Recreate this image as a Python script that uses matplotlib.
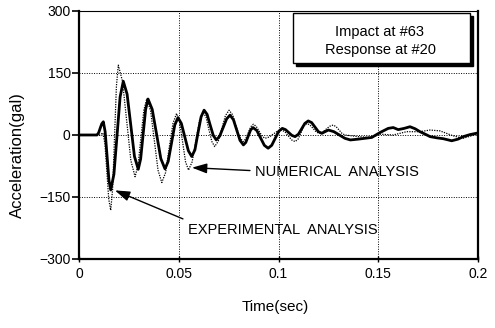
import matplotlib
matplotlib.use('Agg')
import matplotlib.pyplot as plt
from matplotlib.patches import Rectangle

plt.rcParams['font.family'] = ['Liberation Sans', 'DejaVu Sans']

# experimental (solid) curve
t_exp = [0.000, 0.009, 0.0098, 0.0106, 0.0114, 0.0122, 0.0131, 0.01405, 0.0150, 0.0159,
         0.0175, 0.01905, 0.0206, 0.0222, 0.0241, 0.02595, 0.0278, 0.0297, 0.0309, 0.03215,
         0.0334, 0.0346, 0.0367, 0.03885, 0.0410, 0.0431, 0.0447, 0.04635, 0.0480, 0.0496,
         0.0513, 0.05305, 0.0548, 0.0565, 0.0581, 0.0596, 0.0612, 0.0627, 0.0642, 0.06575,
         0.0673, 0.0688, 0.0705, 0.07225, 0.0740, 0.0757, 0.0774, 0.07905, 0.0807, 0.0824,
         0.0836, 0.0848, 0.0860, 0.0872, 0.0891, 0.0910, 0.0929, 0.0948, 0.0966, 0.09835,
         0.1001, 0.1019, 0.1035, 0.1051, 0.1067, 0.1083, 0.1100, 0.1116, 0.1132, 0.1149,
         0.1166, 0.1183, 0.1200, 0.1217, 0.1233, 0.125, 0.12775, 0.1305, 0.13325, 0.136,
         0.1400, 0.1467, 0.1509, 0.155, 0.1575, 0.160, 0.163, 0.1659, 0.1685, 0.1709,
         0.1735, 0.176, 0.1795, 0.1826, 0.1868, 0.190, 0.1926, 0.196, 0.200]
a_exp = [0, 0, 5, 16, 27, 32, 8, -50, -109, -133,
         -95, -2, 92, 130, 99, 24, -52, -83, -58, 2,
         62, 87, 62, 3, -57, -82, -64, -20, 24, 42,
         28, -5, -38, -52, -36, 4, 44, 60, 50, 24,
         -1, -12, -3, 18, 39, 48, 37, 12, -13, -24,
         -18, -3, 12, 18, 11, -7, -25, -32, -25, -8,
         9, 16, 13, 6, -1, -4, 2, 15, 28, 34,
         30, 19, 8, 4, 8, 12, 8, 0, -8, -12,
         -10, -6, 6, 16, 18, 13, 16, 20, 15, 8,
         2, -4, -7, -9, -14, -10, -4, 1, 5]

# numerical (dotted) curve
t_num = [0.000, 0.0105, 0.012, 0.0130, 0.01395, 0.0149, 0.0159, 0.01685, 0.0178, 0.01875,
         0.0197, 0.0218, 0.0239, 0.0260, 0.0281, 0.0296, 0.03105, 0.0325, 0.034, 0.0359,
         0.03775, 0.0396, 0.0415, 0.0434, 0.0452, 0.0471, 0.0489, 0.0504, 0.0519, 0.0534,
         0.0549, 0.0567, 0.05855, 0.0604, 0.0622, 0.0637, 0.0651, 0.0666, 0.068, 0.0698,
         0.0716, 0.0734, 0.0752, 0.0770, 0.0787, 0.0805, 0.0822, 0.0835, 0.0848, 0.0861,
         0.0874, 0.0888, 0.0903, 0.0918, 0.0932, 0.0953, 0.0973, 0.0994, 0.1015, 0.1032,
         0.1049, 0.1066, 0.1083, 0.1098, 0.1113, 0.1128, 0.1143, 0.1158, 0.1173, 0.1188,
         0.1203, 0.1221, 0.12385, 0.1256, 0.1274, 0.1289, 0.13035, 0.1318, 0.1333, 0.140,
         0.1467, 0.1509, 0.1575, 0.1642, 0.1709, 0.1759, 0.1809, 0.1875, 0.1925, 0.1995]
a_num = [0, 0, 5, -22, -88, -155, -182, -131, -6, 118,
         169, 130, 34, -62, -101, -73, -6, 60, 88, 58,
         -13, -85, -115, -91, -31, 28, 52, 32, -16, -65,
         -85, -65, -15, 35, 55, 43, 13, -16, -28, -15,
         16, 47, 60, 49, 22, -5, -16, -10, 5, 20,
         26, 21, 9, -3, -8, -5, 2, 9, 12, 8,
         -2, -12, -16, -10, 6, 22, 28, 24, 16, 8,
         4, 7, 14, 21, 24, 20, 12, 4, 0, -4,
         -6, 2, 0, 8, 8, 12, 10, -2, -8, 2]

xticks = [0, 0.05, 0.1, 0.15, 0.2]
xtick_labels = ['0', '0.05', '0.1', '0.15', '0.2']
yticks = [-300, -150, 0, 150, 300]

fig = plt.figure(figsize=(4.95, 3.28), dpi=100)
ax = fig.add_axes([0.1596, 0.2104, 0.8061, 0.7561])

ax.plot(t_num, a_num, color='black', lw=0.9, ls=(0, (1, 1)))
ax.plot(t_exp, a_exp, color='black', lw=2.0)

ax.set_xlim(0, 0.2)
ax.set_ylim(-300, 300)
ax.set_xticks(xticks, xtick_labels)
ax.set_yticks(yticks)
ax.grid(True, color='black', ls=(0, (1, 1.5)), lw=0.7)
ax.tick_params(axis='y', direction='out', length=5, width=1.2, pad=1, labelsize=10)
ax.tick_params(axis='x', direction='inout', length=4, width=1.0, pad=4, labelsize=10)

for s in ['left', 'bottom', 'right']:
    ax.spines[s].set_linewidth(1.6)
ax.spines['top'].set_linewidth(0.8)

ax.set_xlabel('Time(sec)', fontsize=11)
ax.set_ylabel('Acceleration(gal)', fontsize=12)
ax.xaxis.set_label_coords(0.491, -0.165)
ax.yaxis.set_label_coords(-0.135, 0.42)

# info box with shadow
ax.add_patch(Rectangle((0.543, 0.778), 0.444, 0.202, transform=ax.transAxes,
                       facecolor='black', edgecolor='black', zorder=4, clip_on=False))
ax.add_patch(Rectangle((0.536, 0.790), 0.444, 0.202, transform=ax.transAxes,
                       facecolor='white', edgecolor='black', lw=1.0, zorder=5, clip_on=False))
ax.text(0.753, 0.917, 'Impact at #63', transform=ax.transAxes, ha='center', va='center',
        fontsize=10.5, zorder=6)
ax.text(0.755, 0.843, 'Response at #20', transform=ax.transAxes, ha='center', va='center',
        fontsize=10.5, zorder=6)

arrow = dict(arrowstyle='-|>,head_length=0.9,head_width=0.3', color='black', lw=1.0,
             shrinkA=0, shrinkB=0)
ax.annotate('', xy=(0.0566, -79), xytext=(0.0857, -86), arrowprops=arrow)
ax.text(0.0882, -90, 'NUMERICAL  ANALYSIS', ha='left', va='center', fontsize=10.5)
ax.annotate('', xy=(0.018, -134), xytext=(0.0521, -203), arrowprops=arrow)
ax.text(0.0546, -231, 'EXPERIMENTAL  ANALYSIS', ha='left', va='center', fontsize=10.5)

fig.savefig('out.png', dpi=100)
